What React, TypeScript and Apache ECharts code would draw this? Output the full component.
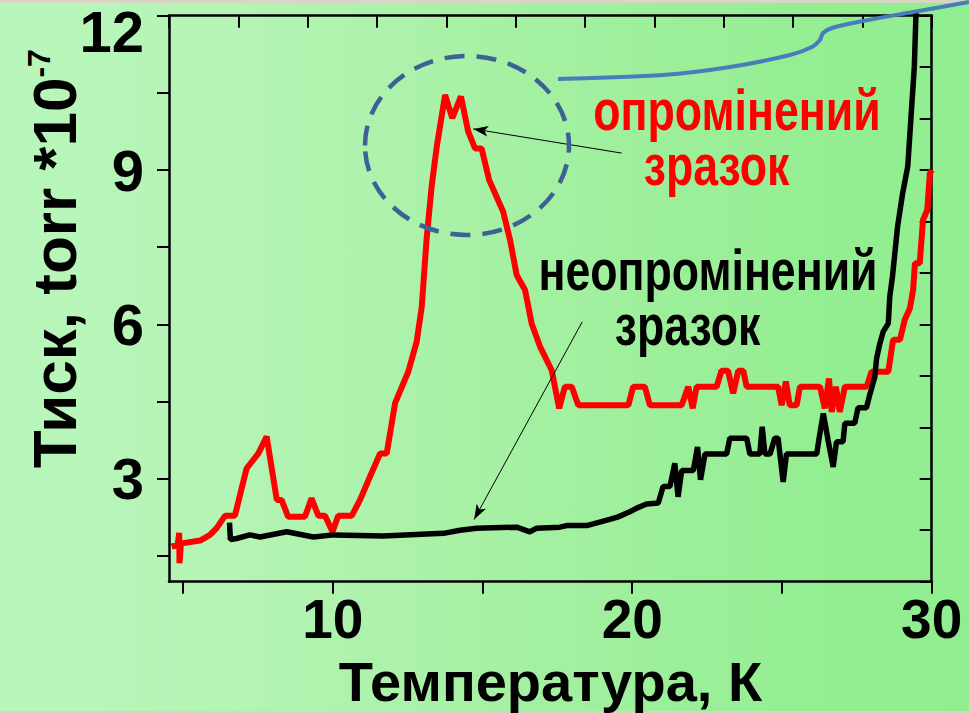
import { useEffect, useRef } from "react";
import * as echarts from "echarts";

// irradiated sample (red): [temperature K, pressure torr*1e-7]
const irradiated: [number, number][] = [
  [4.62, 1.68], [4.82, 1.72], [4.87, 1.95], [4.88, 1.36], [4.93, 1.74], [5.01, 1.75],
  [5.57, 1.8], [5.9, 1.91], [6.12, 2.04], [6.4, 2.28], [6.73, 2.28], [7.12, 3.2],
  [7.51, 3.49], [7.79, 3.82], [8.13, 2.59], [8.29, 2.59], [8.51, 2.26], [9.07, 2.26],
  [9.29, 2.62], [9.52, 2.28], [9.74, 2.28], [9.99, 1.97], [10.18, 2.28], [10.63, 2.28],
  [10.91, 2.59], [11.24, 3.04], [11.58, 3.49], [11.8, 3.49], [12.08, 4.47], [12.52, 5.08],
  [12.8, 5.66], [12.97, 6.34], [13.13, 7.64], [13.3, 8.68], [13.47, 9.45], [13.75, 10.46],
  [13.99, 10.01], [14.28, 10.43], [14.52, 9.75], [14.75, 9.42], [14.97, 9.42], [15.22, 8.81],
  [15.69, 8.19], [15.92, 7.64], [16.14, 6.96], [16.42, 6.67], [16.64, 6.02], [16.92, 5.57],
  [17.31, 5.11], [17.56, 4.37], [17.75, 4.79], [17.98, 4.79], [18.2, 4.43], [19.87, 4.43],
  [20.03, 4.79], [20.42, 4.79], [20.59, 4.43], [21.65, 4.43], [21.87, 4.79], [22.02, 4.37],
  [22.15, 4.79], [22.82, 4.79], [22.98, 5.1], [23.2, 5.1], [23.37, 4.66], [23.54, 5.1],
  [23.71, 5.1], [23.82, 4.79], [24.87, 4.79], [24.99, 4.43], [25.13, 4.89], [25.26, 4.43],
  [25.49, 4.43], [25.6, 4.79], [26.27, 4.79], [26.43, 4.37], [26.57, 4.95], [26.66, 4.3],
  [26.8, 4.79], [26.93, 4.3], [27.1, 4.79], [27.83, 4.79], [27.99, 5.08], [28.55, 5.08],
  [28.71, 5.7], [28.94, 5.7], [29.1, 6.09], [29.27, 6.31], [29.38, 6.67], [29.44, 7.19],
  [29.6, 7.19], [29.71, 8.03], [29.85, 8.22], [29.94, 8.94], [30.0, 9.0],
];

// non-irradiated sample (black)
const unirradiated: [number, number][] = [
  [6.55, 2.15], [6.58, 1.82], [6.79, 1.84], [7.23, 1.91], [7.57, 1.87], [8.46, 1.97],
  [9.35, 1.87], [10.02, 1.91], [11.69, 1.89], [13.69, 1.94], [14.25, 2.0], [14.8, 2.04],
  [16.14, 2.06], [16.58, 1.97], [16.81, 2.04], [17.58, 2.06], [17.81, 2.09], [18.48, 2.09],
  [19.25, 2.21], [19.53, 2.26], [19.92, 2.36], [20.15, 2.43], [20.48, 2.51], [20.87, 2.53],
  [21.03, 2.85], [21.26, 2.85], [21.42, 3.3], [21.53, 2.65], [21.65, 3.16], [22.04, 3.16],
  [22.18, 3.62], [22.28, 2.98], [22.43, 3.48], [23.15, 3.48], [23.26, 3.79], [23.82, 3.79],
  [23.93, 3.48], [24.26, 3.48], [24.34, 4.01], [24.43, 3.48], [24.6, 3.48], [24.76, 3.79],
  [24.87, 3.79], [25.04, 2.94], [25.15, 3.48], [26.16, 3.48], [26.24, 3.79], [26.38, 4.27],
  [26.54, 3.75], [26.71, 3.23], [26.82, 3.72], [27.04, 3.72], [27.1, 4.08], [27.43, 4.08],
  [27.54, 4.38], [27.82, 4.38], [27.93, 4.63], [28.1, 4.98], [28.16, 5.34], [28.27, 5.63],
  [28.38, 5.86], [28.55, 6.02], [28.6, 6.54], [28.69, 6.93], [28.86, 7.9], [29.03, 8.55],
  [29.2, 9.07], [29.31, 10.04], [29.42, 11.01], [29.47, 11.95], [29.52, 12.6],
];

const xTickValues = [5, 10, 15, 20, 25, 30];
const xLabelValues = [10, 20, 30];
const yTickValues = [1.5, 3, 4.5, 6, 7.5, 9, 10.5, 12];
const yLabelValues = [3, 6, 9];
const yTopLabelValues = [12];
const arrowIrradiated = [[19.645, 9.33], [14.69, 9.8]];
const arrowUnirradiated = [[18.33, 6.05], [14.72, 2.21]];

const SANS = '"Liberation Sans", Arial, sans-serif';

export default function App() {
  const ref = useRef<HTMLDivElement>(null);
  useEffect(() => {
    const chart = echarts.init(ref.current!, null, { renderer: "svg" });
    const axisLine = { show: true, onZero: false, lineStyle: { color: "#000", width: 2.5 } };
    const tickStyle = { color: "#000", width: 2 };
    const tickLabel = { color: "#000", fontSize: 58, fontWeight: "bold", fontFamily: SANS };
    const annot = (text: string, x: number, y: number, color: string) => ({
      type: "text", x, y, scaleX: 0.77, z: 10, silent: true,
      style: { text, fill: color, fontSize: 58, fontWeight: "bold", fontFamily: SANS, align: "center", verticalAlign: "middle" },
    });
    chart.setOption({
      animation: false,
      grid: { left: 169, right: 37.3, top: 15.7, bottom: 131.3, containLabel: false, outerBoundsMode: "none" },
      xAxis: [
        {
          type: "value", position: "bottom", min: 4.53, max: 30,
          axisLine,
          axisTick: { show: true, inside: false, length: 12, customValues: xTickValues, lineStyle: tickStyle },
          axisLabel: { ...tickLabel, fontSize: 55, customValues: xLabelValues, margin: 12.7, lineHeight: 50 },
          splitLine: { show: false },
          name: "Температура, К", nameLocation: "middle", nameGap: 72, nameMoveOverlap: false,
          nameTextStyle: { color: "#000", fontSize: 56, fontWeight: "bold", fontFamily: SANS, lineHeight: 56 },
        },
        {
          type: "value", position: "top", min: 0, max: 11, interval: 1,
          axisLine,
          axisTick: { show: true, inside: true, length: 12, lineStyle: tickStyle },
          axisLabel: { show: false }, splitLine: { show: false },
        },
      ],
      yAxis: [
        {
          type: "value", position: "left", min: 1, max: 12,
          axisLine,
          axisTick: { show: true, inside: false, length: 12, customValues: yTickValues, lineStyle: tickStyle },
          axisLabel: { ...tickLabel, customValues: yLabelValues, margin: 25 },
          splitLine: { show: false },
          name: "{m|Тиск, torr *10}{s|-7}", nameLocation: "middle", nameRotate: 90, nameGap: 84,
          nameMoveOverlap: false,
          nameTextStyle: {
            padding: [0, 0, 0, 80],
            rich: {
              m: { color: "#000", fontSize: 62, fontWeight: "bold", fontFamily: SANS },
              s: { color: "#000", fontSize: 32, fontWeight: "bold", fontFamily: SANS, verticalAlign: "top" },
            },
          },
        },
        {
          type: "value", position: "right", min: 1, max: 12, interval: 1,
          axisLine,
          axisTick: { show: true, inside: true, length: 12, lineStyle: tickStyle },
          axisLabel: { show: false }, splitLine: { show: false },
        },
        {
          type: "value", position: "left", offset: 0, min: 1, max: 12,
          axisLine: { show: false }, axisTick: { show: false }, splitLine: { show: false },
          axisLabel: { ...tickLabel, customValues: yTopLabelValues, margin: 25, verticalAlign: "top", lineHeight: 32 },
        },
      ],
      series: [
        {
          name: "опромінений зразок", type: "line", data: irradiated, xAxisIndex: 0, yAxisIndex: 0,
          showSymbol: false, symbol: "none", clip: true,
          lineStyle: { color: "#ff0000", width: 6 }, z: 3,
        },
        {
          name: "неопромінений зразок", type: "line", data: unirradiated, xAxisIndex: 0, yAxisIndex: 0,
          showSymbol: false, symbol: "none", clip: true,
          lineStyle: { color: "#000000", width: 5.5 }, z: 4,
          markLine: {
            silent: true, symbol: ["none", "arrow"], symbolSize: [8, 15],
            lineStyle: { color: "#000", width: 1, type: "solid" },
            label: { show: false },
            data: [
              [{ coord: arrowIrradiated[0] }, { coord: arrowIrradiated[1] }],
              [{ coord: arrowUnirradiated[0] }, { coord: arrowUnirradiated[1] }],
            ],
          },
        },
      ],
      graphic: [
        { type: "rect", left: 0, top: 0, shape: { width: 969, height: 3 }, style: { fill: "#d9d5c5" }, silent: true },
        { type: "rect", left: 0, top: 711, shape: { width: 969, height: 2 }, style: { fill: "#d9d5c5" }, silent: true },
        {
          type: "ellipse", shape: { cx: 467, cy: 145.5, rx: 102, ry: 89.5 },
          style: { fill: "none", stroke: "#3d6095", lineWidth: 4.5, lineDash: [20, 12] }, silent: true, z: 10,
        },
        {
          type: "polyline",
          shape: {
            points: [[558, 79], [663, 75], [730, 67], [790, 55], [812, 47], [820, 40], [823, 33], [832, 28], [863, 21], [913, 12], [969, 2]],
            smooth: 0.3,
          },
          style: { fill: "none", stroke: "#4a7cbd", lineWidth: 4 }, silent: true, z: 10,
        },
        annot("опромінений", 737, 110, "#ff0000"),
        annot("зразок", 716.5, 165, "#ff0000"),
        annot("неопромінений", 708, 270, "#000000"),
        annot("зразок", 687.5, 325, "#000000"),
      ],
    });
    return () => chart.dispose();
  }, []);
  return (
    <div
      ref={ref}
      style={{
        position: "fixed", left: 0, top: 0, width: 969, height: 713,
        background: "linear-gradient(to right, #b9f6bb 0%, #b4f4b4 25%, #a4f0a2 55%, #94ee92 85%, #90ee90 100%)",
      }}
    />
  );
}
